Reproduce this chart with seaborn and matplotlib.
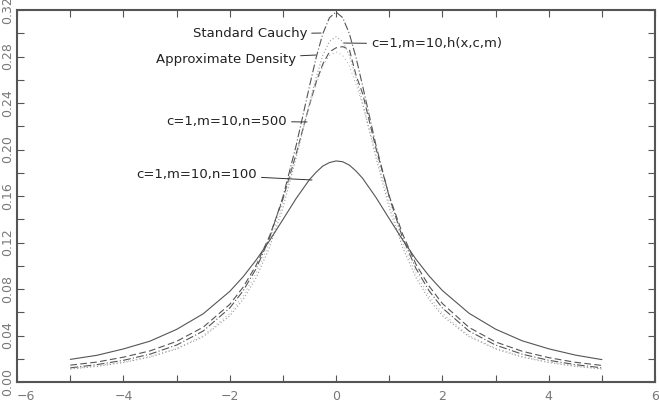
import matplotlib
matplotlib.use("Agg")
import matplotlib.pyplot as plt
import seaborn as sns
from matplotlib.ticker import MultipleLocator, FormatStrFormatter

# Valores
x = [-5, -4.5, -4, -3.5, -3, -2.5, -2, -1.75, -1.5, -1.25, -1, -0.75, -0.5, -0.375, -0.25, -0.125,
     0, 0.125, 0.25, 0.375, 0.5, 0.75, 1, 1.25, 1.5, 1.75, 2, 2.5, 3, 3.5, 4, 4.5, 5]

cauchy = [0.0122, 0.0150, 0.0187, 0.0240, 0.0318, 0.0439, 0.0637, 0.0784, 0.0979, 0.1242,
          0.1592, 0.2037, 0.2546, 0.2791, 0.2996, 0.3134, 0.3183, 0.3134, 0.2996, 0.2791,
          0.2546, 0.2037, 0.1592, 0.1242, 0.0979, 0.0784, 0.0637, 0.0439, 0.0318, 0.0240,
          0.0187, 0.0150, 0.0122]

n500 = [0.0145, 0.0172, 0.0214, 0.0268, 0.0350, 0.0472, 0.0668, 0.0815, 0.1008, 0.1258,
        0.1575, 0.1965, 0.2385, 0.2580, 0.2735, 0.2840, 0.2875, 0.2885, 0.2860, 0.2640,
        0.2480, 0.2010, 0.1600, 0.1275, 0.1015, 0.0825, 0.0675, 0.0470, 0.0345, 0.0265,
        0.0210, 0.0170, 0.0143]

h_xcm = [0.0112, 0.0135, 0.0168, 0.0215, 0.0285, 0.0390, 0.0570, 0.0710, 0.0900, 0.1160,
         0.1500, 0.1930, 0.2400, 0.2620, 0.2810, 0.2930, 0.2970, 0.2930, 0.2810, 0.2620,
         0.2400, 0.1930, 0.1500, 0.1160, 0.0900, 0.0710, 0.0570, 0.0390, 0.0285, 0.0215,
         0.0168, 0.0135, 0.0112]

aprox = [0.0115, 0.0139, 0.0172, 0.0220, 0.0290, 0.0400, 0.0590, 0.0740, 0.0940, 0.1200,
         0.1550, 0.1960, 0.2380, 0.2560, 0.2720, 0.2810, 0.2840, 0.2810, 0.2720, 0.2560,
         0.2380, 0.1960, 0.1550, 0.1200, 0.0940, 0.0740, 0.0590, 0.0400, 0.0290, 0.0220,
         0.0172, 0.0139, 0.0115]

n100 = [0.0195, 0.0230, 0.0285, 0.0352, 0.0453, 0.0587, 0.0780, 0.0905, 0.1052, 0.1218,
        0.1398, 0.1580, 0.1742, 0.1805, 0.1858, 0.1888, 0.1902, 0.1895, 0.1866, 0.1815,
        0.1752, 0.1588, 0.1405, 0.1225, 0.1058, 0.0912, 0.0787, 0.0592, 0.0455, 0.0355,
        0.0286, 0.0232, 0.0193]

sns.set_style("ticks")
plt.rcParams['font.family'] = ['DejaVu Sans']

fig = plt.figure(figsize=(6.59, 4.18), dpi=100)
ax = fig.add_axes([0.026, 0.086, 0.968, 0.89])

cor = '#555555'
sns.lineplot(x=x, y=cauchy, ax=ax, color=cor, lw=0.8, linestyle=(0, (7, 2, 1, 2)))
sns.lineplot(x=x, y=n500, ax=ax, color=cor, lw=0.8, linestyle=(0, (6, 3)))
sns.lineplot(x=x, y=h_xcm, ax=ax, color='#999999', lw=0.8, linestyle=(0, (1, 2)))
sns.lineplot(x=x, y=aprox, ax=ax, color='#aaaaaa', lw=0.7, linestyle=(0, (1, 3)))
sns.lineplot(x=x, y=n100, ax=ax, color=cor, lw=0.8, linestyle='-')

ax.set_xlim(-6, 6)
ax.set_ylim(0, 0.32)
ax.xaxis.set_major_locator(MultipleLocator(2))
ax.xaxis.set_minor_locator(MultipleLocator(1))
ax.yaxis.set_major_locator(MultipleLocator(0.04))
ax.yaxis.set_minor_locator(MultipleLocator(0.02))
ax.yaxis.set_major_formatter(FormatStrFormatter('%.2f'))
ax.tick_params(which='both', direction='in', top=True, right=True, color=cor,
               labelcolor='#777777', labelsize=9)
ax.tick_params(which='major', length=5, width=0.8)
ax.tick_params(which='minor', length=5, width=0.8)
ax.tick_params(axis='y', pad=2)
ax.tick_params(axis='x', pad=6)
for lab in ax.get_yticklabels():
    lab.set_rotation(90)
    lab.set_va('center')
for s in ax.spines.values():
    s.set_color(cor)
    s.set_linewidth(1.5)

seta = dict(arrowstyle='-', color='#333333', lw=0.7, shrinkA=1, shrinkB=0)
fs = 9.5
ax.annotate('Standard Cauchy', xy=(-0.283, 0.3002), xytext=(-0.547, 0.2994),
            ha='right', va='center', fontsize=fs, color='#222222', arrowprops=seta)
ax.annotate('Approximate Density', xy=(-0.377, 0.2813), xytext=(-0.755, 0.2778),
            ha='right', va='center', fontsize=fs, color='#222222', arrowprops=seta)
ax.annotate('c=1,m=10,h(x,c,m)', xy=(0.151, 0.2916), xytext=(0.66, 0.2908),
            ha='left', va='center', fontsize=fs, color='#222222', arrowprops=seta)
ax.annotate('c=1,m=10,n=500', xy=(-0.547, 0.2237), xytext=(-0.925, 0.2245),
            ha='right', va='center', fontsize=fs, color='#222222', arrowprops=seta)
ax.annotate('c=1,m=10,n=100', xy=(-0.453, 0.1738), xytext=(-1.491, 0.1789),
            ha='right', va='center', fontsize=fs, color='#222222', arrowprops=seta)

# rótulo -6 deslocado para não encostar no 0.00
fig.canvas.draw()
for t in ax.xaxis.get_major_ticks():
    if abs(t.get_loc() + 6) < 1e-9:
        t.label1.set_horizontalalignment('left')

fig.savefig('out.png', dpi=100)
